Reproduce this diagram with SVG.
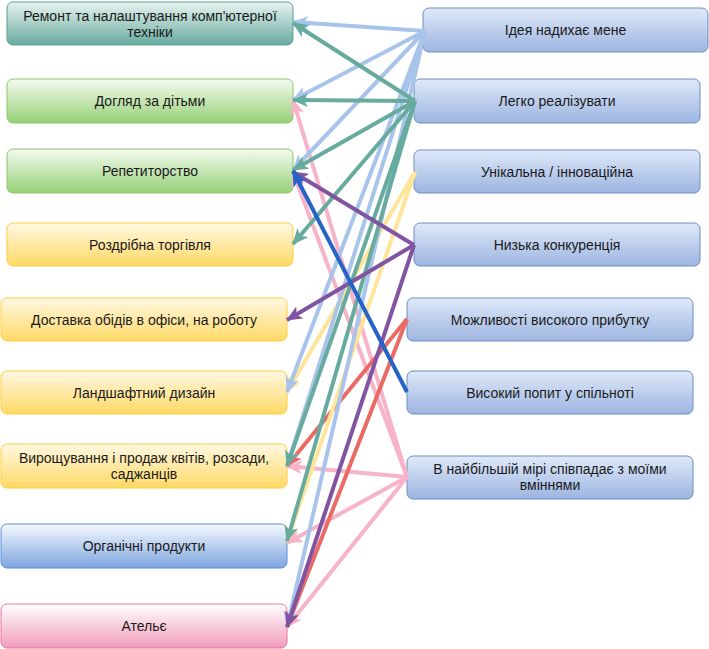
<svg xmlns="http://www.w3.org/2000/svg" width="709" height="649" viewBox="0 0 709 649">
<style>
text{font-family:"Liberation Sans",Arial,sans-serif;font-size:14px;fill:#1a1a1a;text-anchor:middle}
.e{fill:none;stroke-width:4}
.lb{stroke:#a9c4eb;marker-end:url(#mlb)}
.tl{stroke:#67ab9f;marker-end:url(#mtl)}
.ye{stroke:#ffe599;marker-end:url(#mye)}
.pu{stroke:#8154a2;marker-end:url(#mpu)}
.rd{stroke:#ea6b66;marker-end:url(#mrd)}
.db{stroke:#2563c7;marker-end:url(#mdb)}
.pk{stroke:#f7b3c8;marker-end:url(#mpk)}
</style>
<defs>
<linearGradient id="gTeal" x1="0" y1="0" x2="0" y2="1"><stop offset="0" stop-color="#e8f4f1"/><stop offset="1" stop-color="#67ab9f"/></linearGradient>
<linearGradient id="gGreen" x1="0" y1="0" x2="0" y2="1"><stop offset="0" stop-color="#f4fbf0"/><stop offset="1" stop-color="#97d077"/></linearGradient>
<linearGradient id="gYellow" x1="0" y1="0" x2="0" y2="1"><stop offset="0" stop-color="#fff8e3"/><stop offset="1" stop-color="#ffd966"/></linearGradient>
<linearGradient id="gBlueL" x1="0" y1="0" x2="0" y2="1"><stop offset="0" stop-color="#f6f9fe"/><stop offset="1" stop-color="#7ea6e0"/></linearGradient>
<linearGradient id="gPink" x1="0" y1="0" x2="0" y2="1"><stop offset="0" stop-color="#ffffff"/><stop offset="1" stop-color="#f19cbc"/></linearGradient>
<linearGradient id="gBlueR" x1="0" y1="0" x2="0" y2="1"><stop offset="0" stop-color="#dfe9f9"/><stop offset="1" stop-color="#9db5e1"/></linearGradient>
<marker id="mlb" markerUnits="userSpaceOnUse" viewBox="0 0 16 14" markerWidth="16" markerHeight="14" refX="15" refY="7" orient="auto"><path d="M0,0L16,7L0,14L4,7Z" fill="#a9c4eb"/></marker>
<marker id="mtl" markerUnits="userSpaceOnUse" viewBox="0 0 16 14" markerWidth="16" markerHeight="14" refX="15" refY="7" orient="auto"><path d="M0,0L16,7L0,14L4,7Z" fill="#67ab9f"/></marker>
<marker id="mye" markerUnits="userSpaceOnUse" viewBox="0 0 16 14" markerWidth="16" markerHeight="14" refX="15" refY="7" orient="auto"><path d="M0,0L16,7L0,14L4,7Z" fill="#ffe599"/></marker>
<marker id="mpu" markerUnits="userSpaceOnUse" viewBox="0 0 16 14" markerWidth="16" markerHeight="14" refX="15" refY="7" orient="auto"><path d="M0,0L16,7L0,14L4,7Z" fill="#8154a2"/></marker>
<marker id="mrd" markerUnits="userSpaceOnUse" viewBox="0 0 16 14" markerWidth="16" markerHeight="14" refX="15" refY="7" orient="auto"><path d="M0,0L16,7L0,14L4,7Z" fill="#ea6b66"/></marker>
<marker id="mdb" markerUnits="userSpaceOnUse" viewBox="0 0 16 14" markerWidth="16" markerHeight="14" refX="15" refY="7" orient="auto"><path d="M0,0L16,7L0,14L4,7Z" fill="#2563c7"/></marker>
<marker id="mpk" markerUnits="userSpaceOnUse" viewBox="0 0 16 14" markerWidth="16" markerHeight="14" refX="15" refY="7" orient="auto"><path d="M0,0L16,7L0,14L4,7Z" fill="#f7b3c8"/></marker>
</defs>

<g id="n-remont"><rect x="7" y="2" width="286" height="43" rx="6" fill="url(#gTeal)" stroke="#5a9f93"/><text x="150" y="20.5">Ремонт та налаштування комп'ютерної</text><text x="150" y="36.5">техніки</text></g>
<g id="n-dohliad"><rect x="7" y="79" width="286" height="44" rx="6" fill="url(#gGreen)" stroke="#8cc66d"/><text x="150" y="106">Догляд за дітьми</text></g>
<g id="n-repetytorstvo"><rect x="7" y="149" width="286" height="44" rx="6" fill="url(#gGreen)" stroke="#8cc66d"/><text x="150" y="176">Репетиторство</text></g>
<g id="n-rozdribna"><rect x="7" y="223" width="286" height="43" rx="6" fill="url(#gYellow)" stroke="#ffcd3c"/><text x="150" y="249.5">Роздрібна торгівля</text></g>
<g id="n-dostavka"><rect x="1" y="298" width="286" height="43" rx="6" fill="url(#gYellow)" stroke="#ffcd3c"/><text x="144" y="324.5">Доставка обідів в офіси, на роботу</text></g>
<g id="n-landshaft"><rect x="1" y="371" width="286" height="43" rx="6" fill="url(#gYellow)" stroke="#ffcd3c"/><text x="144" y="397.5">Ландшафтний дизайн</text></g>
<g id="n-vyroshchuvannia"><rect x="1" y="444" width="286" height="44" rx="6" fill="url(#gYellow)" stroke="#ffcd3c"/><text x="144" y="463">Вирощування і продаж квітів, розсади,</text><text x="144" y="479">саджанців</text></g>
<g id="n-orhanichni"><rect x="1" y="524" width="286" height="44" rx="6" fill="url(#gBlueL)" stroke="#5a8fd8"/><text x="144" y="551">Органічні продукти</text></g>
<g id="n-atelie"><rect x="1" y="604" width="286" height="44" rx="6" fill="url(#gPink)" stroke="#ea73a2"/><text x="144" y="631">Ательє</text></g>

<g id="n-ideia"><rect x="423" y="8" width="285" height="44" rx="6" fill="url(#gBlueR)" stroke="#6c8ebf"/><text x="565.5" y="35">Ідея надихає мене</text></g>
<g id="n-lehko"><rect x="414" y="79" width="286" height="44" rx="6" fill="url(#gBlueR)" stroke="#6c8ebf"/><text x="557" y="106">Легко реалізувати</text></g>
<g id="n-unikalna"><rect x="414" y="150" width="286" height="43" rx="6" fill="url(#gBlueR)" stroke="#6c8ebf"/><text x="557" y="176.5">Унікальна / інноваційна</text></g>
<g id="n-nyzka"><rect x="414" y="223" width="286" height="43" rx="6" fill="url(#gBlueR)" stroke="#6c8ebf"/><text x="557" y="249.5">Низька конкуренція</text></g>
<g id="n-mozhlyvosti"><rect x="407" y="298" width="286" height="43" rx="6" fill="url(#gBlueR)" stroke="#6c8ebf"/><text x="550" y="324.5">Можливості високого прибутку</text></g>
<g id="n-popyt"><rect x="407" y="371" width="286" height="43" rx="6" fill="url(#gBlueR)" stroke="#6c8ebf"/><text x="550" y="397.5">Високий попит у спільноті</text></g>
<g id="n-vminniamy"><rect x="407" y="456" width="286" height="43" rx="6" fill="url(#gBlueR)" stroke="#6c8ebf"/><text x="550" y="473.5">В найбільшій мірі співпадає з моїми</text><text x="550" y="489.5">вміннями</text></g>

<g id="connectors">
<line class="e pk" x1="407" y1="477" x2="293" y2="100"/>
<line class="e pk" x1="407" y1="477" x2="293" y2="172"/>
<line class="e pk" x1="407" y1="477" x2="287" y2="466"/>
<line class="e pk" x1="407" y1="477" x2="287" y2="543"/>
<line class="e pk" x1="407" y1="477" x2="287" y2="627"/>
<line class="e rd" x1="407" y1="319" x2="287" y2="466"/>
<line class="e rd" x1="407" y1="319" x2="287" y2="627"/>
<line class="e ye" x1="415" y1="172" x2="287" y2="392"/>
<line class="e ye" x1="415" y1="172" x2="287" y2="541"/>
<line class="e lb" x1="425" y1="31" x2="293" y2="22"/>
<line class="e lb" x1="425" y1="31" x2="293" y2="100"/>
<line class="e lb" x1="425" y1="31" x2="293" y2="170"/>
<line class="e lb" x1="425" y1="31" x2="287" y2="392"/>
<line class="e lb" x1="425" y1="31" x2="287" y2="466"/>
<line class="e lb" x1="425" y1="31" x2="287" y2="627"/>
<line class="e tl" x1="415" y1="101" x2="293" y2="23"/>
<line class="e tl" x1="415" y1="101" x2="293" y2="100"/>
<line class="e tl" x1="415" y1="101" x2="293" y2="170"/>
<line class="e tl" x1="415" y1="101" x2="293" y2="244"/>
<line class="e tl" x1="415" y1="101" x2="287" y2="466"/>
<line class="e tl" x1="415" y1="101" x2="287" y2="541"/>
<line class="e pu" x1="414" y1="245" x2="293" y2="172"/>
<line class="e pu" x1="414" y1="245" x2="287" y2="320"/>
<line class="e pu" x1="414" y1="245" x2="287" y2="627"/>
<line class="e db" x1="407" y1="392" x2="293" y2="171"/>
</g>
</svg>
